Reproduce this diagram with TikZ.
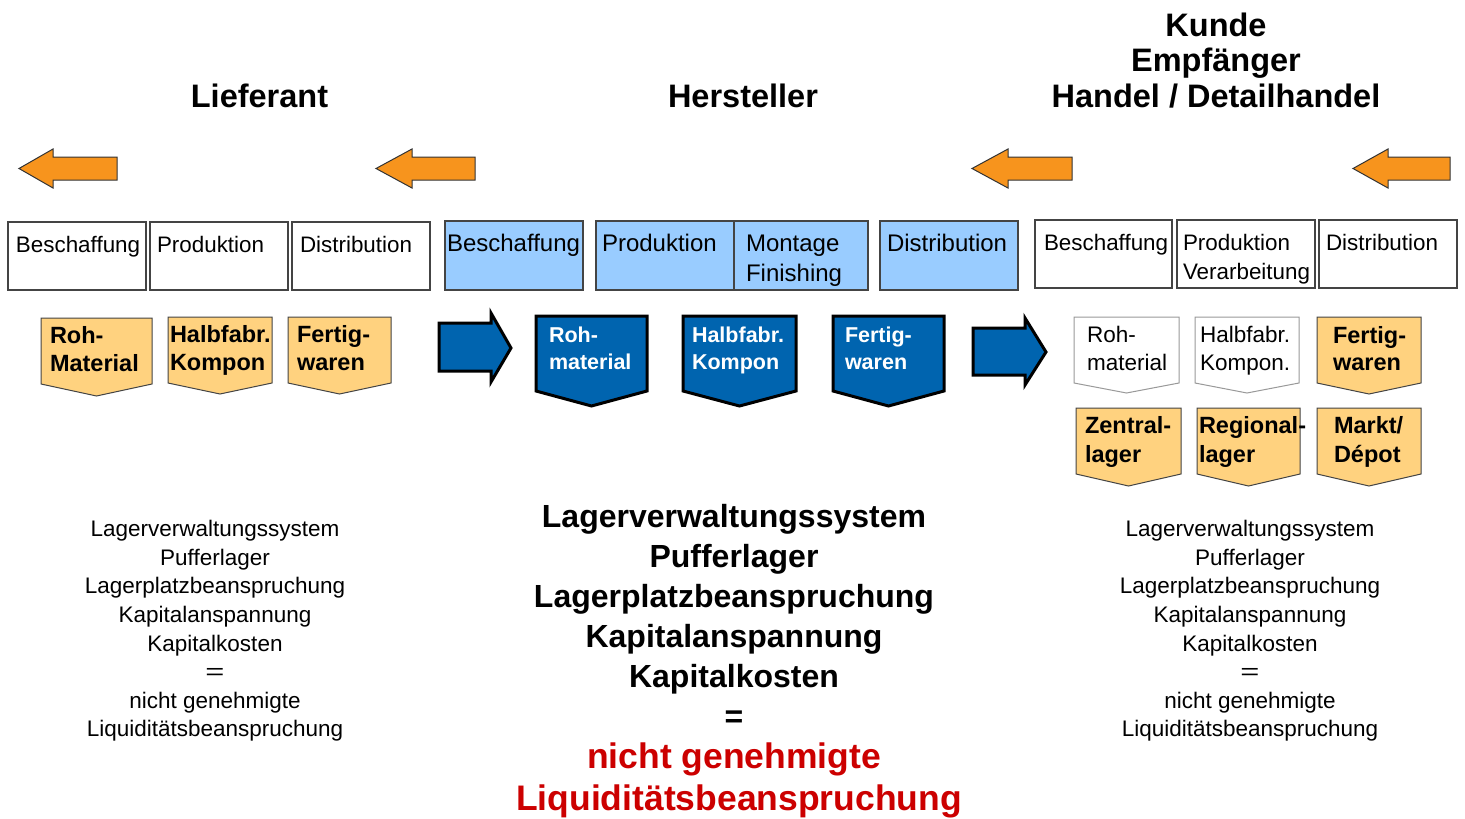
\documentclass[tikz,border=0pt]{standalone}
\usepackage{fontspec}
\setmainfont{Liberation Sans}
\definecolor{arrorange}{HTML}{F7941D}
\definecolor{penorange}{HTML}{FFD27F}
\definecolor{boxblue}{HTML}{99CCFF}
\definecolor{darkblue}{HTML}{0064AF}
\definecolor{alertred}{HTML}{CC0000}
\definecolor{edgegray}{HTML}{444444}
\newcommand\pentshape[6]{\draw[#1] (#2,#4) -- (#3,#4) -- (#3,#5) -- ({(#2+#3)/2},#6) -- (#2,#5) -- cycle;}
\newcommand\leftarrowshape[3]{\draw[orangearrow] (#1,168.5) -- (#2,149) -- (#2,157) -- (#3,157) -- (#3,180) -- (#2,180) -- (#2,188) -- cycle;}
% left x, head x, tip x, shaft top, shaft bottom, head top, head bottom, tip y
\newcommand\rightarrowshape[8]{\draw[bluearrow] (#1,#4) -- (#2,#4) -- (#2,#6) -- (#3,#8) -- (#2,#7) -- (#2,#5) -- (#1,#5) -- cycle;}
\newcommand\wideeq{\scalebox{1.45}[1]{=}}
\tikzset{
  every node/.style={inner sep=0pt, outer sep=0pt},
  orangearrow/.style={fill=arrorange, draw=black!80, line width=1pt, line join=miter},
  bluearrow/.style={fill=darkblue, draw=black, line width=3pt, line join=miter},
  whitebox/.style={draw=edgegray, line width=1.2pt, fill=white},
  bluebox/.style={draw=edgegray, line width=1.2pt, fill=boxblue},
  orangepent/.style={fill=penorange, draw=edgegray, line width=1pt},
  bluepent/.style={fill=darkblue, draw=black, line width=3pt, line join=miter},
  whitepent/.style={fill=white, draw=black!40, line width=1pt},
  boxtxt/.style={anchor=base west, font=\fontsize{22.4}{29}\selectfont},
  blueboxtxt/.style={anchor=base west, font=\fontsize{24}{30}\selectfont},
  orangetxt/.style={anchor=base west, font=\fontsize{23.5}{28}\selectfont\bfseries},
  bluetxt/.style={anchor=base west, text=white, font=\fontsize{21.5}{27}\selectfont\bfseries},
  whitetxt/.style={anchor=base west, font=\fontsize{22.5}{28}\selectfont},
  titletxt/.style={anchor=base, font=\fontsize{32.5}{36}\selectfont\bfseries},
  sidetxt/.style={anchor=base, font=\fontsize{22.5}{28}\selectfont},
  centertxt/.style={anchor=base, font=\fontsize{32}{40}\selectfont\bfseries},
  redtxt/.style={anchor=base, text=alertred, font=\fontsize{35.5}{42}\selectfont\bfseries},
}
\begin{document}
\begin{tikzpicture}[x=1pt, y=-1pt]
\fill[white] (0,0) rectangle (1465,819);
\useasboundingbox (0,0) rectangle (1465,819);

% titles
\node[titletxt] (lieferant) at (259.5,107) {Lieferant};
\node[titletxt] (hersteller) at (743,107) {Hersteller};
\node[titletxt] (kunde) at (1216,36.5) {Kunde};
\node[titletxt] (empfaenger) at (1216,71.5) {Empfänger};
\node[titletxt] (handel) at (1216,107) {Handel / Detailhandel};

% orange arrows
\leftarrowshape{19}{53}{117}
\leftarrowshape{376}{412}{475}
\leftarrowshape{972}{1008}{1072}
\leftarrowshape{1353}{1388}{1450}

% boxes row - Lieferant
\draw[whitebox] (8,222) rectangle (146,290);
\draw[whitebox] (150,222) rectangle (288,290);
\draw[whitebox] (292,222) rectangle (430,290);
\node[boxtxt] (lbes) at (16,252) {Beschaffung};
\node[boxtxt] (lpro) at (157,252) {Produktion};
\node[boxtxt] (ldis) at (300,252) {Distribution};

% boxes row - Hersteller
\draw[bluebox] (445,221) rectangle (583,290);
\draw[bluebox] (596,221) rectangle (868,290);
\draw[edgegray, line width=1.2pt] (734,221) -- (734,290);
\draw[bluebox] (880,221) rectangle (1018,290);
\node[blueboxtxt] (hbes) at (447,251) {Beschaffung};
\node[blueboxtxt] (hpro) at (602,251) {Produktion};
\node[blueboxtxt] (hmon) at (746,251) {Montage};
\node[blueboxtxt] (hfin) at (746,281) {Finishing};
\node[blueboxtxt] (hdis) at (887,251) {Distribution};

% boxes row - Kunde
\draw[whitebox] (1035,220) rectangle (1172,288);
\draw[whitebox] (1177,220) rectangle (1315,288);
\draw[whitebox] (1319,220) rectangle (1457,288);
\node[boxtxt] (kbes) at (1044,250) {Beschaffung};
\node[boxtxt] (kpro) at (1183,250) {Produktion};
\node[boxtxt] (kver) at (1183,279) {Verarbeitung};
\node[boxtxt] (kdis) at (1326,250) {Distribution};

% Lieferant pentagons
\pentshape{orangepent}{41}{152}{318}{384}{396}
\pentshape{orangepent}{168}{272}{317}{383}{394}
\pentshape{orangepent}{288}{391}{317}{383}{394}
\node[orangetxt] (lp1a) at (50,343) {Roh-};
\node[orangetxt] (lp1b) at (50,371) {Material};
\node[orangetxt] (lp2a) at (170,342) {Halbfabr.};
\node[orangetxt] (lp2b) at (170,370) {Kompon};
\node[orangetxt] (lp3a) at (297,342) {Fertig-};
\node[orangetxt] (lp3b) at (297,370) {waren};

% blue arrows
\rightarrowshape{439}{491}{511}{323}{371}{313}{382}{348}
\rightarrowshape{973}{1025}{1046}{328}{375}{318}{385}{352}

% Hersteller pentagons
\pentshape{bluepent}{536}{647}{316}{391}{406}
\pentshape{bluepent}{683}{796}{316}{391}{406}
\pentshape{bluepent}{833}{944}{316}{391}{406}
\node[bluetxt] (hp1a) at (549,342.5) {Roh-};
\node[bluetxt] (hp1b) at (549,369.5) {material};
\node[bluetxt] (hp2a) at (692,342.5) {Halbfabr.};
\node[bluetxt] (hp2b) at (692,369.5) {Kompon};
\node[bluetxt] (hp3a) at (845,342.5) {Fertig-};
\node[bluetxt] (hp3b) at (845,369.5) {waren};

% Kunde pentagons
\pentshape{whitepent}{1074}{1179}{317}{383}{393}
\pentshape{whitepent}{1195}{1299}{317}{383}{393}
\pentshape{orangepent}{1317}{1421}{317}{383}{394}
\pentshape{orangepent}{1076}{1181}{408}{474}{486}
\pentshape{orangepent}{1197}{1300}{408}{474}{486}
\pentshape{orangepent}{1317}{1421}{408}{474}{486}
\node[whitetxt] (kp1a) at (1087,342) {Roh-};
\node[whitetxt] (kp1b) at (1087,370) {material};
\node[whitetxt] (kp2a) at (1200,342) {Halbfabr.};
\node[whitetxt] (kp2b) at (1200,370) {Kompon.};
\node[orangetxt] (kp3a) at (1333,343) {Fertig-};
\node[orangetxt] (kp3b) at (1333,370) {waren};
\node[orangetxt] (kp4a) at (1085,433) {Zentral-};
\node[orangetxt] (kp4b) at (1085,462) {lager};
\node[orangetxt] (kp5a) at (1199,433) {Regional-};
\node[orangetxt] (kp5b) at (1199,462) {lager};
\node[orangetxt] (kp6a) at (1334,433) {Markt/};
\node[orangetxt] (kp6b) at (1334,462) {Dépot};

% side texts
\foreach \t [count=\i] in {Lagerverwaltungssystem, Pufferlager, Lagerplatzbeanspruchung, Kapitalanspannung, Kapitalkosten, \wideeq, nicht genehmigte, Liquiditätsbeanspruchung} {
  \node[sidetxt] (sl\i) at (215,{536.7+28.6*(\i-1)}) {\t};
  \node[sidetxt] (sr\i) at (1250,{536.7+28.6*(\i-1)}) {\t};
}

% center text
\foreach \t [count=\i] in {Lagerverwaltungssystem, Pufferlager, Lagerplatzbeanspruchung, Kapitalanspannung, Kapitalkosten, =} {
  \node[centertxt] (c\i) at (734,{527+40*(\i-1)}) {\t};
}
\node[redtxt] (c7) at (734,768) {nicht genehmigte};
\node[redtxt] (c8) at (739,810) {Liquiditätsbeanspruchung};
\end{tikzpicture}
\end{document}
